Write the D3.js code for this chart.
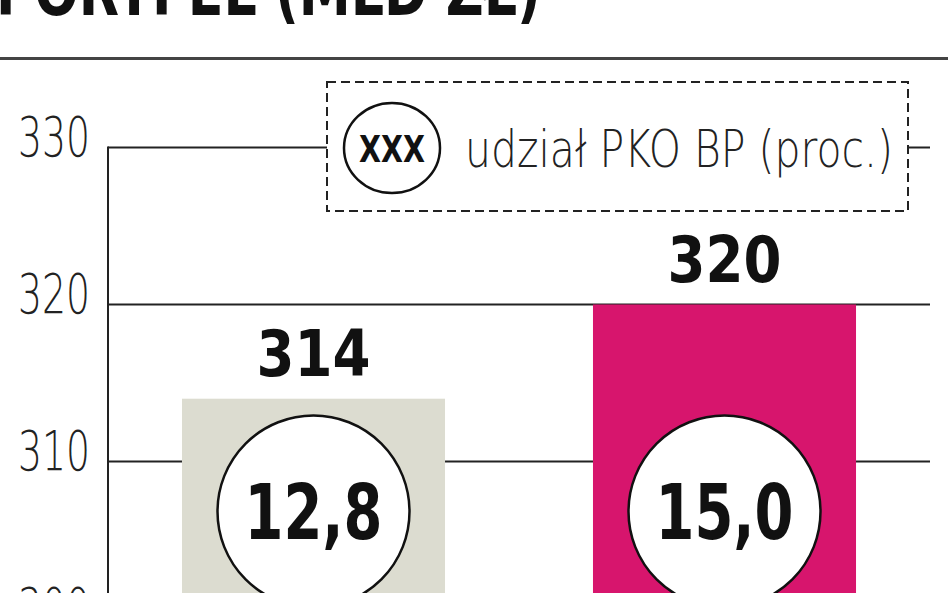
<!DOCTYPE html>
<html>
<head>
<meta charset="utf-8">
<script src="https://cdn.jsdelivr.net/npm/d3@7"></script>
<style>
  body { margin: 0; background: #fff; }
  svg { display: block; }
</style>
</head>
<body>
<svg id="chart"></svg>
<script>
const categories = ["A", "B"];
const portfolio = [314, 320];
const shares = ["12,8", "15,0"];
const tickValues = [310, 320, 330];
const barColors = ["#dcdcd0", "#d7156d"];

const width = 948, height = 593;
const thin = "'DejaVu Sans', sans-serif";
const bold = "'DejaVu Sans Condensed', 'DejaVu Sans', sans-serif";

const svg = d3.select("#chart")
    .attr("width", width)
    .attr("height", height);

// title, cut off by the top edge
svg.append("text")
    .attr("x", -4)
    .attr("y", 15)
    .attr("font-family", bold)
    .attr("font-weight", "bold")
    .attr("font-size", 70)
    .attr("textLength", 545)
    .attr("lengthAdjust", "spacingAndGlyphs")
    .attr("fill", "#111")
    .text("PORTFEL (MLD ZŁ)");

svg.append("rect")
    .attr("x", 0).attr("y", 57)
    .attr("width", width).attr("height", 3)
    .attr("fill", "#444");

const x = d3.scaleBand()
    .domain(categories)
    .range([108, 930])
    .paddingInner(0.36)
    .paddingOuter(0.18);

const y = d3.scaleLinear()
    .domain([310, 330])
    .range([461.5, 147.5]);

// grid lines
svg.append("g")
    .selectAll("line")
    .data(tickValues)
    .join("line")
    .attr("x1", 108).attr("x2", 930)
    .attr("y1", d => y(d)).attr("y2", d => y(d))
    .attr("stroke", "#222")
    .attr("stroke-width", 2);

// axis line
svg.append("line")
    .attr("x1", 108).attr("x2", 108)
    .attr("y1", y(330) - 1).attr("y2", height)
    .attr("stroke", "#222")
    .attr("stroke-width", 2);

// tick labels (300 peeks in at the bottom)
svg.append("g")
    .selectAll("text")
    .data([300].concat(tickValues))
    .join("text")
    .attr("x", 18)
    .attr("y", d => y(d) + 8)
    .attr("font-family", thin)
    .attr("font-weight", 200)
    .attr("font-size", 55)
    .attr("textLength", 72)
    .attr("lengthAdjust", "spacingAndGlyphs")
    .attr("fill", "#222")
    .text(d => d);

// bars
svg.append("g")
    .selectAll("rect")
    .data(portfolio)
    .join("rect")
    .attr("x", (d, i) => x(categories[i]))
    .attr("y", d => y(d))
    .attr("width", x.bandwidth())
    .attr("height", d => height - y(d))
    .attr("fill", (d, i) => barColors[i]);

// value labels
svg.append("g")
    .selectAll("text")
    .data(portfolio)
    .join("text")
    .attr("x", (d, i) => x(categories[i]) + x.bandwidth() / 2 - 57)
    .attr("y", d => y(d) - 23)
    .attr("font-family", bold)
    .attr("font-weight", "bold")
    .attr("font-size", 64)
    .attr("textLength", 114)
    .attr("lengthAdjust", "spacingAndGlyphs")
    .attr("fill", "#111")
    .text(d => d);

// share circles
const circ = svg.append("g")
    .selectAll("g")
    .data(shares)
    .join("g")
    .attr("transform", (d, i) =>
        `translate(${x(categories[i]) + x.bandwidth() / 2},${y(310) + 50})`);

circ.append("circle")
    .attr("r", 96)
    .attr("fill", "#fff")
    .attr("stroke", "#111")
    .attr("stroke-width", 2.5);

circ.append("text")
    .attr("x", -69)
    .attr("y", 27)
    .attr("font-family", bold)
    .attr("font-weight", "bold")
    .attr("font-size", 77)
    .attr("textLength", 138)
    .attr("lengthAdjust", "spacingAndGlyphs")
    .attr("fill", "#111")
    .text(d => d);

// legend
const legend = svg.append("g");
legend.append("rect")
    .attr("x", 327).attr("y", 82)
    .attr("width", 581).attr("height", 129)
    .attr("fill", "#fff")
    .attr("stroke", "#222")
    .attr("stroke-width", 2)
    .attr("stroke-dasharray", "9,5");

legend.append("ellipse")
    .attr("cx", 392).attr("cy", 148)
    .attr("rx", 48).attr("ry", 45)
    .attr("fill", "#fff")
    .attr("stroke", "#111")
    .attr("stroke-width", 2.5);

legend.append("text")
    .attr("x", 359).attr("y", 162)
    .attr("font-family", bold)
    .attr("font-weight", "bold")
    .attr("font-size", 38)
    .attr("textLength", 66)
    .attr("lengthAdjust", "spacingAndGlyphs")
    .attr("fill", "#111")
    .text("XXX");

legend.append("text")
    .attr("x", 465).attr("y", 167)
    .attr("font-family", thin)
    .attr("font-weight", 200)
    .attr("font-size", 52)
    .attr("textLength", 428)
    .attr("lengthAdjust", "spacingAndGlyphs")
    .attr("fill", "#222")
    .text("udział PKO BP (proc.)");
</script>
</body>
</html>
